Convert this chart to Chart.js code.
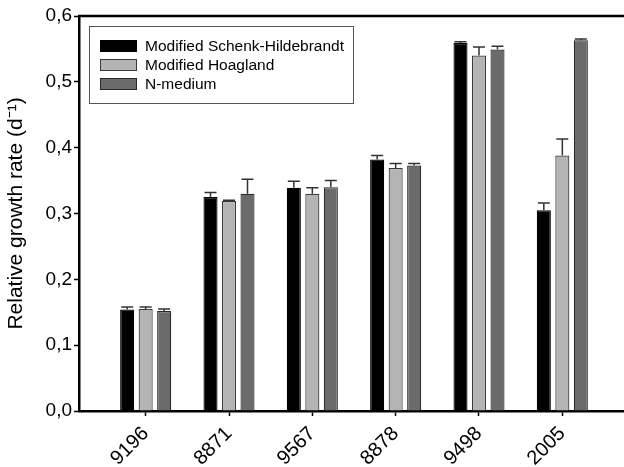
<!DOCTYPE html>
<html lang="en">
<head>
    <meta charset="UTF-8">
    <title>Relative growth rate</title>
    <script src="https://cdn.jsdelivr.net/npm/chart.js"></script>
    <style>
        body {
            margin: 0;
            padding: 0;
            background-color: #ffffff;
            overflow: hidden;
        }
        .chart-box {
            width: 624px;
            height: 467px;
            position: relative;
        }
    </style>
</head>
<body>
    <div class="chart-box">
        <canvas id="chart"></canvas>
    </div>

    <script>
        // datos
        const cepas = ['9196', '8871', '9567', '8878', '9498', '2005'];
        const series = ['Modified Schenk-Hildebrandt', 'Modified Hoagland', 'N-medium'];
        const schenk = [0.154, 0.325, 0.339, 0.382, 0.559, 0.305];
        const schenkErr = [0.004, 0.007, 0.010, 0.006, 0.002, 0.011];
        const hoagland = [0.155, 0.319, 0.330, 0.369, 0.540, 0.388];
        const hoaglandErr = [0.003, 0.001, 0.009, 0.007, 0.013, 0.025];
        const nmedium = [0.152, 0.330, 0.340, 0.373, 0.549, 0.563];
        const nmediumErr = [0.003, 0.022, 0.010, 0.003, 0.005, 0.002];
        const yTicks = [0, 0.1, 0.2, 0.3, 0.4, 0.5, 0.6];

        const colores = ['#000000', '#b4b4b4', '#6b6b6b'];
        const bordes = ['#000000', '#3a3a3a', '#2a2a2a'];
        const FONT = "'Liberation Sans', Arial, sans-serif";

        function puntos(vals) {
            return vals.map((v, i) => ({ x: i, y: v }));
        }

        const errores = [schenkErr, hoaglandErr, nmediumErr];

        const errorBars = {
            id: 'errorBars',
            afterDatasetsDraw(chart) {
                const ctx = chart.ctx;
                const yScale = chart.scales.y;
                ctx.save();
                ctx.strokeStyle = '#333333';
                ctx.lineWidth = 1.5;
                chart.data.datasets.forEach((ds, d) => {
                    const meta = chart.getDatasetMeta(d);
                    meta.data.forEach((bar, i) => {
                        const v = ds.data[i].y;
                        const top = yScale.getPixelForValue(v + errores[d][i]);
                        ctx.beginPath();
                        ctx.moveTo(bar.x, bar.y);
                        ctx.lineTo(bar.x, top);
                        ctx.moveTo(bar.x - 6, top);
                        ctx.lineTo(bar.x + 6, top);
                        ctx.stroke();
                    });
                });
                ctx.restore();
            }
        };

        const marcoYLeyenda = {
            id: 'marcoYLeyenda',
            afterDraw(chart) {
                const ctx = chart.ctx;
                const area = chart.chartArea;
                ctx.save();
                // linea superior del marco
                ctx.strokeStyle = '#000000';
                ctx.lineWidth = 2.5;
                ctx.beginPath();
                ctx.moveTo(area.left - 1, area.top);
                ctx.lineTo(chart.width, area.top);
                ctx.stroke();

                // leyenda
                const lx = 89, ly = 26, lw = 264, lh = 77;
                ctx.fillStyle = '#ffffff';
                ctx.fillRect(lx, ly, lw, lh);
                ctx.strokeStyle = '#555555';
                ctx.lineWidth = 1;
                ctx.strokeRect(lx + 0.5, ly + 0.5, lw, lh);
                ctx.font = '15.5px ' + FONT;
                ctx.textBaseline = 'middle';
                chart.data.datasets.forEach((ds, d) => {
                    const cy = ly + 20 + d * 19;
                    ctx.fillStyle = ds.backgroundColor;
                    ctx.fillRect(lx + 11, cy - 6, 37, 12);
                    ctx.strokeStyle = ds.borderColor;
                    ctx.strokeRect(lx + 11.5, cy - 5.5, 36, 11);
                    ctx.fillStyle = '#000000';
                    ctx.fillText(ds.label, lx + 56, cy + 1);
                });
                ctx.restore();
            }
        };

        const ctx = document.getElementById('chart').getContext('2d');
        const chart = new Chart(ctx, {
            type: 'bar',
            data: {
                datasets: [schenk, hoagland, nmedium].map((vals, d) => ({
                    label: series[d],
                    data: puntos(vals),
                    backgroundColor: colores[d],
                    borderColor: bordes[d],
                    borderWidth: 1.2,
                    categoryPercentage: 0.666,
                    barPercentage: 0.76
                }))
            },
            options: {
                responsive: true,
                maintainAspectRatio: false,
                animation: false,
                layout: { padding: { top: 16, right: 0, left: 0, bottom: 0 } },
                plugins: {
                    legend: { display: false },
                    tooltip: { enabled: false }
                },
                scales: {
                    x: {
                        type: 'linear',
                        min: -0.8,
                        max: 5.74,
                        offset: false,
                        afterFit(scale) { scale.height = 56; },
                        afterBuildTicks(scale) {
                            scale.ticks = cepas.map((c, i) => ({ value: i }));
                        },
                        border: { color: '#000000', width: 2.5 },
                        grid: {
                            offset: false,
                            drawOnChartArea: false,
                            drawTicks: true,
                            tickLength: 5,
                            tickColor: '#000000',
                            tickWidth: 1.5
                        },
                        ticks: {
                            minRotation: 45,
                            maxRotation: 45,
                            padding: 6,
                            color: '#000000',
                            font: { family: FONT, size: 20 },
                            callback: (v) => cepas[v]
                        }
                    },
                    y: {
                        min: 0,
                        max: 0.6,
                        afterFit(scale) { scale.width = 79; },
                        afterBuildTicks(scale) {
                            scale.ticks = yTicks.map(v => ({ value: v }));
                        },
                        border: { color: '#000000', width: 2.5 },
                        grid: {
                            drawOnChartArea: false,
                            drawTicks: true,
                            tickLength: 5,
                            tickColor: '#000000',
                            tickWidth: 1.5
                        },
                        ticks: {
                            padding: 2,
                            color: '#000000',
                            font: { family: FONT, size: 19 },
                            callback: (v) => v.toFixed(1).replace('.', ',')
                        },
                        title: {
                            display: true,
                            text: 'Relative growth rate (d\u207B\u00B9)',
                            color: '#000000',
                            font: { family: FONT, size: 21 },
                            padding: { top: 4, bottom: 0 }
                        }
                    }
                }
            },
            plugins: [errorBars, marcoYLeyenda]
        });
    </script>
</body>
</html>
